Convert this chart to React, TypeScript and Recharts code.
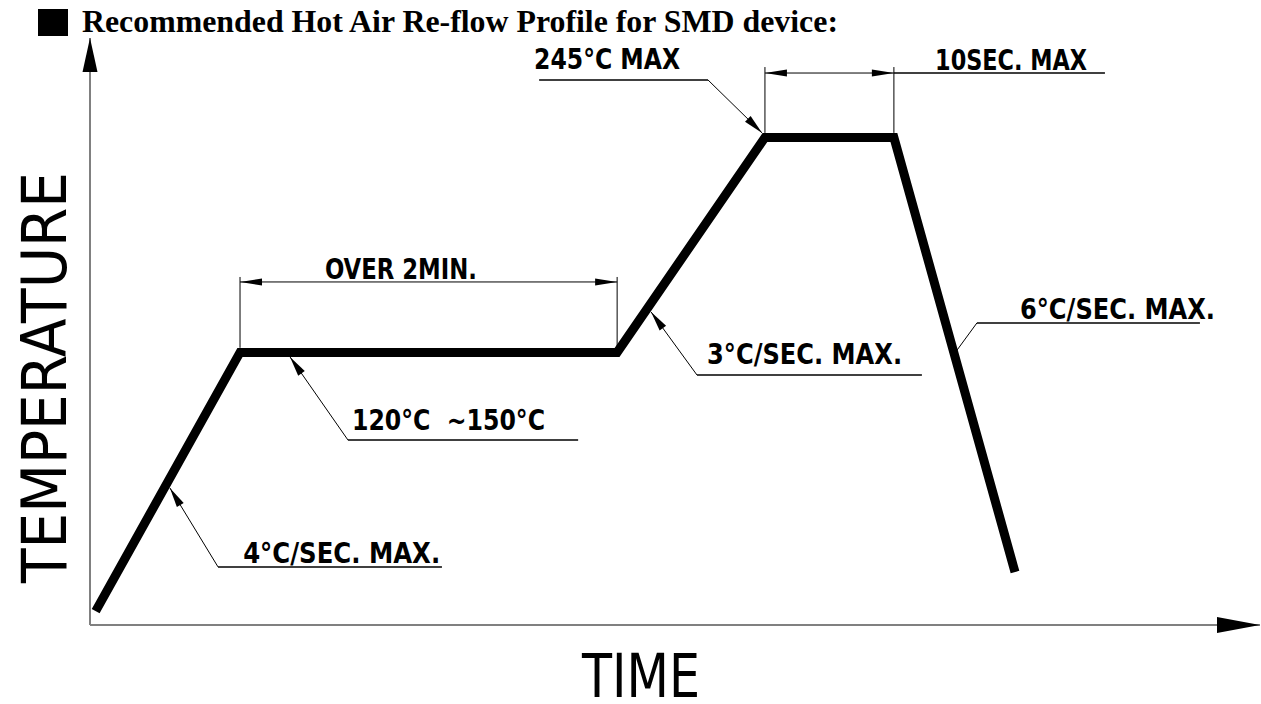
import React from 'react';
import { LineChart, Line, XAxis, YAxis, ReferenceLine, ReferenceDot } from 'recharts';

const W = 1261;
const H = 704;

// Re-flow profile: time (s) and temperature (°C)
const profileTime = [1.8, 47.7, 167.6, 214.6, 255.6, 294.1];
const profileTemp = [7, 137, 137, 245, 245, 26.6];

const TIME_MAX = 372;
const TEMP_MAX = 295;

// Annotation texts and their anchors (data units: time, temperature)
const labelTexts = ['245°C MAX', '10SEC. MAX', 'OVER 2MIN.', '120°C  ~150°C', '3°C/SEC. MAX.', '6°C/SEC. MAX.', '4°C/SEC. MAX.'];
const labelTime = [141.2, 268.7, 74.7, 83.3, 196.2, 295.7, 48.7];
const labelTemp = [279.4, 278.7, 173.9, 98.0, 131.2, 153.8, 31.2];

// Underlines: [timeStart, timeEnd, temperature]
const underlines: [number, number, number][] = [
  [142.8, 196.5, 273.9],
  [255.6, 322.7, 277.4],
  [82.0, 155.2, 93.0],
  [193.0, 264.5, 125.6],
  [282.0, 352.9, 151.8],
  [40.7, 111.9, 29.2],
];

// Leaders: [fromTime, fromTemp, toTime, toTemp, arrow]
const leaders: [number, number, number, number, boolean][] = [
  [196.5, 273.9, 213.7, 247.3, true],
  [82.0, 93.0, 63.6, 134.7, true],
  [193.0, 125.6, 178.4, 157.3, true],
  [282.0, 151.8, 275.7, 138.2, false],
  [40.7, 29.2, 25.4, 68.9, true],
];

// Dimensions: [timeStart, timeEnd, dimTemp, extFromTemp, extToTemp]
const dimensions: [number, number, number, number, number][] = [
  [47.7, 167.6, 172.4, 139.3, 174.9],
  [214.6, 255.6, 277.4, 247.3, 280.4],
];

const labelWidths = [146, 152, 152, 193, 195, 195, 197];

const data = profileTime.map((t, i) => ({ t, temp: profileTemp[i] }));

function head(tx: number, ty: number, fx: number, fy: number, len: number, hw: number) {
  const dx = tx - fx;
  const dy = ty - fy;
  const d = Math.hypot(dx, dy) || 1;
  const ux = dx / d;
  const uy = dy / d;
  const bx = tx - ux * len;
  const by = ty - uy * len;
  return `${tx},${ty} ${bx - uy * hw},${by + ux * hw} ${bx + uy * hw},${by - ux * hw}`;
}

type ArrowOpt = { stroke: string; width: number; start?: boolean; end?: boolean; len: number; hw: number };
const makeArrow = (o: ArrowOpt) => (p: any) => {
  const { x1, y1, x2, y2 } = p;
  return (
    <g>
      <line x1={x1} y1={y1} x2={x2} y2={y2} stroke={o.stroke} strokeWidth={o.width} />
      {o.end ? <polygon points={head(x2, y2, x1, y1, o.len, o.hw)} fill="#000" /> : null}
      {o.start ? <polygon points={head(x1, y1, x2, y2, o.len, o.hw)} fill="#000" /> : null}
    </g>
  );
};

const plainLine = (stroke: string, width: number) => (p: any) => (
  <line x1={p.x1} y1={p.y1} x2={p.x2} y2={p.y2} stroke={stroke} strokeWidth={width} />
);

const labelFont = "'DejaVu Sans Condensed', 'DejaVu Sans', sans-serif";
const axisFont = "'DejaVu Sans', sans-serif";

export default function App() {
  return (
    <div style={{ position: 'absolute', left: 0, top: 0, width: W, height: H, background: '#fff' }}>
      <LineChart width={W} height={H} data={data} margin={{ top: 38, right: 1, bottom: 79, left: 90 }}>
        <XAxis type="number" dataKey="t" domain={[0, TIME_MAX]} allowDataOverflow hide />
        <YAxis type="number" domain={[0, TEMP_MAX]} allowDataOverflow hide />
        {/* axes with arrows */}
        <ReferenceLine
          segment={[{ x: 0, y: 0 }, { x: TIME_MAX, y: 0 }]}
          ifOverflow="visible"
          shape={makeArrow({ stroke: '#808080', width: 2, end: true, len: 43, hw: 8 })}
        />
        <ReferenceLine
          segment={[{ x: 0, y: 0 }, { x: 0, y: TEMP_MAX }]}
          ifOverflow="visible"
          shape={makeArrow({ stroke: '#808080', width: 2, end: true, len: 34, hw: 7.5 })}
        />
        {/* dimension lines */}
        {dimensions.map((d, i) => (
          <ReferenceLine
            key={`dim${i}`}
            segment={[{ x: d[0], y: d[2] }, { x: d[1], y: d[2] }]}
            ifOverflow="visible"
            shape={makeArrow({ stroke: '#000', width: 1, start: true, end: true, len: 22, hw: 3.5 })}
          />
        ))}
        {dimensions.flatMap((d, i) => [
          <ReferenceLine
            key={`extA${i}`}
            segment={[{ x: d[0], y: d[3] }, { x: d[0], y: d[4] }]}
            ifOverflow="visible"
            shape={plainLine('#000', 1)}
          />,
          <ReferenceLine
            key={`extB${i}`}
            segment={[{ x: d[1], y: d[3] }, { x: d[1], y: d[4] }]}
            ifOverflow="visible"
            shape={plainLine('#000', 1)}
          />,
        ])}
        {/* underlines */}
        {underlines.map((u, i) => (
          <ReferenceLine
            key={`ul${i}`}
            segment={[{ x: u[0], y: u[2] }, { x: u[1], y: u[2] }]}
            ifOverflow="visible"
            shape={plainLine('#000', 1.5)}
          />
        ))}
        {/* leaders */}
        {leaders.map((l, i) => (
          <ReferenceLine
            key={`ld${i}`}
            segment={[{ x: l[0], y: l[1] }, { x: l[2], y: l[3] }]}
            ifOverflow="visible"
            shape={makeArrow({ stroke: '#000', width: 1, end: l[4], len: 20, hw: 4 })}
          />
        ))}
        <Line
          type="linear"
          dataKey="temp"
          stroke="#000"
          strokeWidth={9}
          strokeLinejoin="miter"
          dot={false}
          activeDot={false}
          isAnimationActive={false}
        />
        {labelTexts.map((txt, i) => (
          <ReferenceDot
            key={`lb${i}`}
            x={labelTime[i]}
            y={labelTemp[i]}
            r={0}
            ifOverflow="visible"
            shape={(p: any) => (
              <text
                x={p.cx}
                y={p.cy}
                fontFamily={labelFont}
                fontWeight="bold"
                fontSize={28}
                fill="#000"
                textLength={labelWidths[i]}
                lengthAdjust="spacingAndGlyphs"
                style={{ whiteSpace: 'pre' }}
              >
                {txt}
              </text>
            )}
          />
        ))}
      </LineChart>
      <svg
        width={W}
        height={H}
        style={{ position: 'absolute', left: 0, top: 0, pointerEvents: 'none' }}
      >
        <rect x={38} y={9} width={30} height={27} fill="#000" />
        <text
          x={82}
          y={32}
          fontFamily="'Liberation Serif', 'Times New Roman', serif"
          fontWeight="bold"
          fontSize={31.5}
          fill="#000"
          textLength={756}
          lengthAdjust="spacingAndGlyphs"
        >
          Recommended Hot Air Re-flow Profile for SMD device:
        </text>
        <text
          x={582}
          y={697}
          fontFamily={axisFont}
          fontSize={60}
          fill="#000"
          textLength={118}
          lengthAdjust="spacingAndGlyphs"
        >
          TIME
        </text>
        <g transform="translate(66,583) rotate(-90)">
          <text
            x={0}
            y={0}
            fontFamily={axisFont}
            fontSize={63}
            fill="#000"
            textLength={411}
            lengthAdjust="spacingAndGlyphs"
          >
            TEMPERATURE
          </text>
        </g>
      </svg>
    </div>
  );
}
